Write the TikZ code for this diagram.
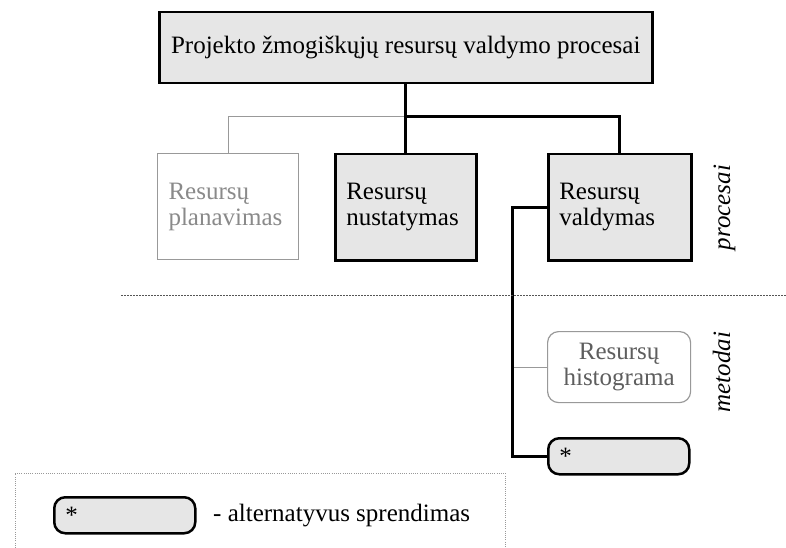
\documentclass[tikz,border=0pt]{standalone}
\usepackage{fontspec}
\setmainfont{Liberation Serif}
\definecolor{boxfill}{HTML}{E6E6E6}
\definecolor{lightline}{HTML}{999999}
\definecolor{lighttext}{HTML}{8A8A8A}
\definecolor{midtext}{HTML}{5E5E5E}
\definecolor{sepline}{HTML}{555555}
\begin{document}
\begin{tikzpicture}[x=1pt,y=-1pt,
  txt/.style={font=\fontsize{25}{26}\selectfont},
  mainbox/.style={txt,draw=black,line width=2.5pt,fill=boxfill,rectangle,anchor=north west,inner sep=0pt},
  lightbox/.style={txt,draw=lightline,line width=1pt,fill=white,text=lighttext,rectangle,anchor=north west,inner sep=0pt},
  procbox/.style={minimum width=141pt,minimum height=106pt,text width=119pt,align=left},
  histbox/.style={txt,draw=lightline,line width=1.2pt,fill=white,text=midtext,rounded corners=11pt,anchor=north west,
     minimum width=143pt,minimum height=71pt,inner sep=0pt,align=center},
  altbox/.style={txt,draw=black,line width=2.5pt,fill=boxfill,rounded corners=11pt,anchor=north west,
     minimum width=141pt,minimum height=36pt,inner sep=0pt,text width=119pt,align=left},
  thickline/.style={draw=black,line width=3pt},
  thinline/.style={draw=lightline,line width=1pt},
  sideword/.style={txt,font=\fontsize{25}{26}\selectfont\itshape,rotate=90,anchor=base},
]
\useasboundingbox (0,0) rectangle (786,548);

% top box
\node[mainbox,minimum width=493pt,minimum height=71pt] (top) at (158,11) {Projekto žmogiškųjų resursų valdymo procesai};

% process boxes
\node[lightbox,procbox] (plan) at (157,153) {Resursų\\planavimas};
\node[mainbox,procbox] (nust) at (334,153) {Resursų\\nustatymas};
\node[mainbox,procbox,minimum width=143pt,text width=121pt] (vald) at (547,153) {Resursų\\valdymas};

% method boxes
\node[histbox] (hist) at (547,331) {Resursų\\histograma};
\node[altbox] (alt) at (547,437) {*};

% connectors
\coordinate (j) at (405,117);
\coordinate (bus) at (512,0);
\draw[thinline] (j) -| (plan.north);
\draw[thickline] (top.south) -- (nust.north);
\draw[thickline,line join=miter] (j) -| (vald.north);
\draw[thinline] (hist.west) -- (hist.west -| bus);
\draw[thickline,line join=miter] (vald.west) -- (vald.west -| bus) |- (alt.west);

% separator
\coordinate (s1) at (121,295);
\coordinate (s2) at (786,295);
\draw[sepline,line width=0.8pt,dash pattern=on 2pt off 1pt] (s1) -- (s2);

% side labels
\node[sideword] (proc) at (730,207.5) {procesai};
\node[sideword] (met) at (730,372) {metodai};

% legend
\coordinate (l1) at (15,548);
\coordinate (l2) at (15,473);
\coordinate (l3) at (505,473);
\coordinate (l4) at (505,548);
\draw[lightline,line width=0.7pt,dash pattern=on 1pt off 1.2pt] (l1) -- (l2) -- (l3) -- (l4);
\node[altbox,minimum width=141pt,text width=119pt] (legalt) at (53,496) {*};
\node[txt,anchor=base west,inner sep=0pt] (legtext) at (213,521) {- alternatyvus sprendimas};
\end{tikzpicture}
\end{document}
